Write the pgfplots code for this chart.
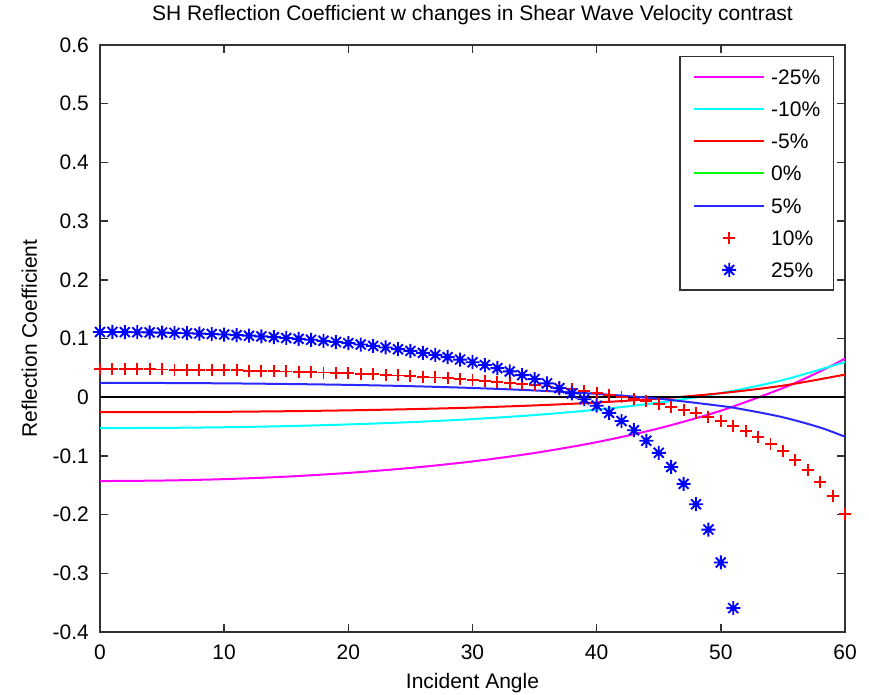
\documentclass[border=0pt]{standalone}
\usepackage{fontspec}
\setmainfont{Liberation Sans}
\usepackage{pgfplots}
\pgfplotsset{compat=1.18}
\definecolor{mmag}{RGB}{255,0,255}
\definecolor{mcyan}{RGB}{0,255,255}
\definecolor{mred}{RGB}{255,0,0}
\definecolor{mgreen}{RGB}{0,255,0}
\definecolor{mblue}{RGB}{0,0,255}
\definecolor{mbluel}{RGB}{40,40,255}
\pgfdeclareplotmark{mstar}{%
  \pgfpathmoveto{\pgfqpoint{-\pgfplotmarksize}{0pt}}\pgfpathlineto{\pgfqpoint{\pgfplotmarksize}{0pt}}%
  \pgfpathmoveto{\pgfqpoint{0pt}{-\pgfplotmarksize}}\pgfpathlineto{\pgfqpoint{0pt}{\pgfplotmarksize}}%
  \pgfpathmoveto{\pgfqpoint{-.7071\pgfplotmarksize}{-.7071\pgfplotmarksize}}\pgfpathlineto{\pgfqpoint{.7071\pgfplotmarksize}{.7071\pgfplotmarksize}}%
  \pgfpathmoveto{\pgfqpoint{-.7071\pgfplotmarksize}{.7071\pgfplotmarksize}}\pgfpathlineto{\pgfqpoint{.7071\pgfplotmarksize}{-.7071\pgfplotmarksize}}%
  \pgfusepathqstroke}
\newcommand{\fs}{\fontsize{21}{25}\selectfont}
\begin{document}
\begin{tikzpicture}
\path[use as bounding box] (-100pt,-63pt) rectangle (769pt,632pt);
\begin{axis}[
  scale only axis, width=745pt, height=587pt,
  xmin=0, xmax=60, ymin=-0.4, ymax=0.6,
  xtick={0,10,20,30,40,50,60},
  xticklabels={0,10,20,30,40,50,60},
  ytick={-0.4,-0.3,-0.2,-0.1,0,0.1,0.2,0.3,0.4,0.5,0.6},
  yticklabels={-0.4,-0.3,-0.2,-0.1,0,0.1,0.2,0.3,0.4,0.5,0.6},
  tick align=inside, major tick length=8pt,
  axis line style={line width=1.5pt, black!80},
  every tick/.style={line width=1.5pt, black!80},
  xticklabel style={font=\fs, anchor=base, yshift=-27pt},
  yticklabel style={font=\fs, anchor=east, inner sep=0pt, xshift=-11pt},
  title={SH Reflection Coefficient w changes in Shear Wave Velocity contrast},
  title style={font=\fs, at={(axis description cs:0.5,1)}, anchor=base, yshift=18pt},
  xlabel={Incident Angle},
  xlabel style={font=\fs, at={(axis description cs:0.5,0)}, anchor=base, yshift=-56pt},
  ylabel={Reflection Coefficient},
  ylabel style={font=\fs, at={(axis description cs:-0.0846,0.5)}, anchor=base, rotate=0},
  legend style={at={(axis description cs:1,1)}, anchor=north east, xshift=-11pt, yshift=-11pt,
    draw=black!80, line width=1.5pt, fill=white, inner xsep=13pt, inner ysep=12.5pt,
    font=\fs, row sep=17.2pt, cells={anchor=west},
    nodes={inner sep=0pt, text height=15pt, text depth=0pt}},
  legend image code/.code={\draw[mark repeat=2,mark phase=2,#1] plot coordinates {(0pt,0pt) (35pt,0pt) (70pt,0pt)}; \path (76pt,0pt);},
]
\addplot[mmag, line width=2pt, smooth, mark=none] coordinates {
(0,-0.1429)(5,-0.1420)(10,-0.1396)(15,-0.1353)(20,-0.1290)(25,-0.1205)(30,-0.1094)(35,-0.0950)(40,-0.0766)(45,-0.0531)(50,-0.0230)(55,0.0156)(58,0.0440)(60,0.0657)};
\addlegendentry{-25\%}
\addplot[mcyan, line width=2pt, smooth, mark=none] coordinates {
(0,-0.0526)(5,-0.0523)(10,-0.0512)(15,-0.0493)(20,-0.0464)(25,-0.0425)(30,-0.0373)(35,-0.0304)(40,-0.0213)(45,-0.0092)(50,0.0070)(55,0.0292)(60,0.0600)};
\addlegendentry{-10\%}
\addplot[mred, line width=2pt, smooth, mark=none] coordinates {
(0,-0.0256)(5,-0.0255)(10,-0.0249)(15,-0.0239)(20,-0.0224)(25,-0.0204)(30,-0.0177)(35,-0.0140)(40,-0.0091)(45,-0.0024)(50,0.0068)(55,0.0197)(60,0.0385)};
\addlegendentry{-5\%}
\addplot[mgreen, line width=2pt, mark=none] coordinates {(0,0)(60,0)};
\addlegendentry{0\%}
\addplot[black, line width=1.6pt, mark=none, forget plot] coordinates {(0,0)(60,0)};
\addplot[mbluel, line width=2pt, smooth, mark=none] coordinates {
(0,0.0244)(5,0.0242)(10,0.0236)(15,0.0225)(20,0.0210)(25,0.0188)(30,0.0157)(35,0.0115)(40,0.0057)(45,-0.0026)(50,-0.0149)(52,-0.0216)(55,-0.0342)(58,-0.0517)(60,-0.0674)};
\addlegendentry{5\%}
\addplot[mred, only marks, mark=+, mark size=6pt, line width=1.9pt] coordinates {
(0,0.0476)(1,0.0476)(2,0.0476)(3,0.0475)(4,0.0474)(5,0.0472)(6,0.0470)(7,0.0468)(8,0.0466)(9,0.0463)
(10,0.0460)(11,0.0456)(12,0.0452)(13,0.0448)(14,0.0443)(15,0.0438)(16,0.0433)(17,0.0427)(18,0.0420)(19,0.0413)
(20,0.0406)(21,0.0398)(22,0.0389)(23,0.0380)(24,0.0370)(25,0.0360)(26,0.0348)(27,0.0336)(28,0.0323)(29,0.0310)
(30,0.0295)(31,0.0279)(32,0.0263)(33,0.0245)(34,0.0225)(35,0.0205)(36,0.0183)(37,0.0159)(38,0.0134)(39,0.0106)
(40,0.0077)(41,0.0045)(42,0.0010)(43,-0.0028)(44,-0.0068)(45,-0.0113)(46,-0.0161)(47,-0.0214)(48,-0.0273)(49,-0.0337)
(50,-0.0409)(51,-0.0488)(52,-0.0577)(53,-0.0677)(54,-0.0790)(55,-0.0919)(56,-0.1067)(57,-0.1240)(58,-0.1443)(59,-0.1686)
(60,-0.1983)};
\addlegendentry{10\%}
\addplot[mblue, only marks, mark=mstar, mark size=7pt, line width=1.9pt] coordinates {
(0,0.1111)(1,0.1111)(2,0.1109)(3,0.1107)(4,0.1104)(5,0.1101)(6,0.1096)(7,0.1090)(8,0.1084)(9,0.1076)
(10,0.1068)(11,0.1058)(12,0.1048)(13,0.1036)(14,0.1023)(15,0.1009)(16,0.0994)(17,0.0978)(18,0.0960)(19,0.0940)
(20,0.0920)(21,0.0897)(22,0.0873)(23,0.0847)(24,0.0818)(25,0.0788)(26,0.0755)(27,0.0720)(28,0.0682)(29,0.0641)
(30,0.0596)(31,0.0548)(32,0.0495)(33,0.0439)(34,0.0377)(35,0.0309)(36,0.0235)(37,0.0154)(38,0.0064)(39,-0.0035)
(40,-0.0145)(41,-0.0268)(42,-0.0406)(43,-0.0563)(44,-0.0742)(45,-0.0948)(46,-0.1189)(47,-0.1476)(48,-0.1823)(49,-0.2255)
(50,-0.2816)(51,-0.3593)};
\addlegendentry{25\%}
\end{axis}
\end{tikzpicture}
\end{document}
